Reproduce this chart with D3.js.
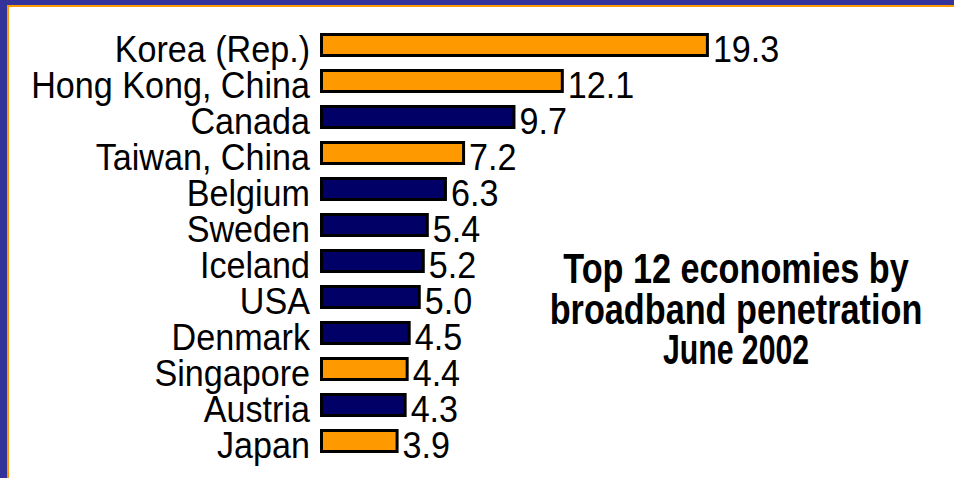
<!DOCTYPE html>
<html>
<head>
<meta charset="utf-8">
<script src="https://cdn.jsdelivr.net/npm/d3@7"></script>
<style>
  html, body { margin: 0; padding: 0; background: #fff; }
  svg { display: block; }
</style>
</head>
<body>
<svg id="chart" width="954" height="478"></svg>
<script>
// Broadband subscribers per 100 inhabitants, June 2002
const economies = ["Korea (Rep.)", "Hong Kong, China", "Canada", "Taiwan, China", "Belgium",
  "Sweden", "Iceland", "USA", "Denmark", "Singapore", "Austria", "Japan"];
const penetration = [19.3, 12.1, 9.7, 7.2, 6.3, 5.4, 5.2, 5.0, 4.5, 4.4, 4.3, 3.9];
const region = ["asia", "asia", "other", "asia", "other", "other", "other", "other", "other", "asia", "other", "asia"];
const titleLines = ["Top 12 economies by", "broadband penetration", "June 2002"];

const W = 954, H = 478;
// Arial-metric face, squeezed horizontally to a narrow cut
const FONT = "'Liberation Sans', Arial, sans-serif";
const LABEL_SQUEEZE = 0.91;
const TITLE_SQUEEZE = [0.815, 0.815, 0.72];

const svg = d3.select("#chart");

// Slide frame: blue band, thin orange rule, white panel
svg.append("rect").attr("x", 0).attr("y", 0).attr("width", W).attr("height", H).attr("fill", "#333399");
svg.append("rect").attr("x", 7).attr("y", 5).attr("width", W - 7).attr("height", H - 5).attr("fill", "#FF9900");
svg.append("rect").attr("x", 9).attr("y", 7).attr("width", W - 9).attr("height", H - 7).attr("fill", "#ffffff");

const x = d3.scaleLinear().domain([0, 20]).range([320, 723]);
const y = d3.scaleBand().domain(economies).range([21, 465]).padding(1 / 3);
const colour = d3.scaleOrdinal().domain(["asia", "other"]).range(["#FF9900", "#000066"]);

const rows = economies.map((name, i) => ({ name, value: penetration[i], region: region[i] }));
const baseline = d => y(d.name) + y.bandwidth() / 2 + 16.5;

const g = svg.append("g");

g.selectAll("rect.bar")
  .data(rows)
  .join("rect")
  .attr("class", "bar")
  .attr("x", x(0) + 1.5)
  .attr("y", d => y(d.name) + 1.5)
  .attr("width", d => x(d.value) - x(0) - 3)
  .attr("height", y.bandwidth() - 3)
  .attr("fill", d => colour(d.region))
  .attr("stroke", "#000")
  .attr("stroke-width", 3);

// Category labels, right-aligned against the bars
g.selectAll("text.cat")
  .data(rows)
  .join("text")
  .attr("class", "cat")
  .attr("transform", d => `translate(310,${baseline(d)}) scale(${LABEL_SQUEEZE},1)`)
  .attr("text-anchor", "end")
  .attr("font-family", FONT)
  .attr("font-size", 37.5)
  .attr("fill", "#000")
  .text(d => d.name);

// Value labels at the end of each bar
g.selectAll("text.val")
  .data(rows)
  .join("text")
  .attr("class", "val")
  .attr("transform", d => `translate(${x(d.value) + 4},${baseline(d)}) scale(${LABEL_SQUEEZE},1)`)
  .attr("font-family", FONT)
  .attr("font-size", 37.5)
  .attr("fill", "#000")
  .text(d => d.value.toFixed(1));

// Chart caption
svg.append("g")
  .selectAll("text")
  .data(titleLines)
  .join("text")
  .attr("transform", (d, i) => `translate(736,${283 + i * 40.5}) scale(${TITLE_SQUEEZE[i]},1)`)
  .attr("text-anchor", "middle")
  .attr("font-family", FONT)
  .attr("font-weight", "bold")
  .attr("font-size", 42)
  .attr("fill", "#000")
  .text(d => d);
</script>
</body>
</html>
